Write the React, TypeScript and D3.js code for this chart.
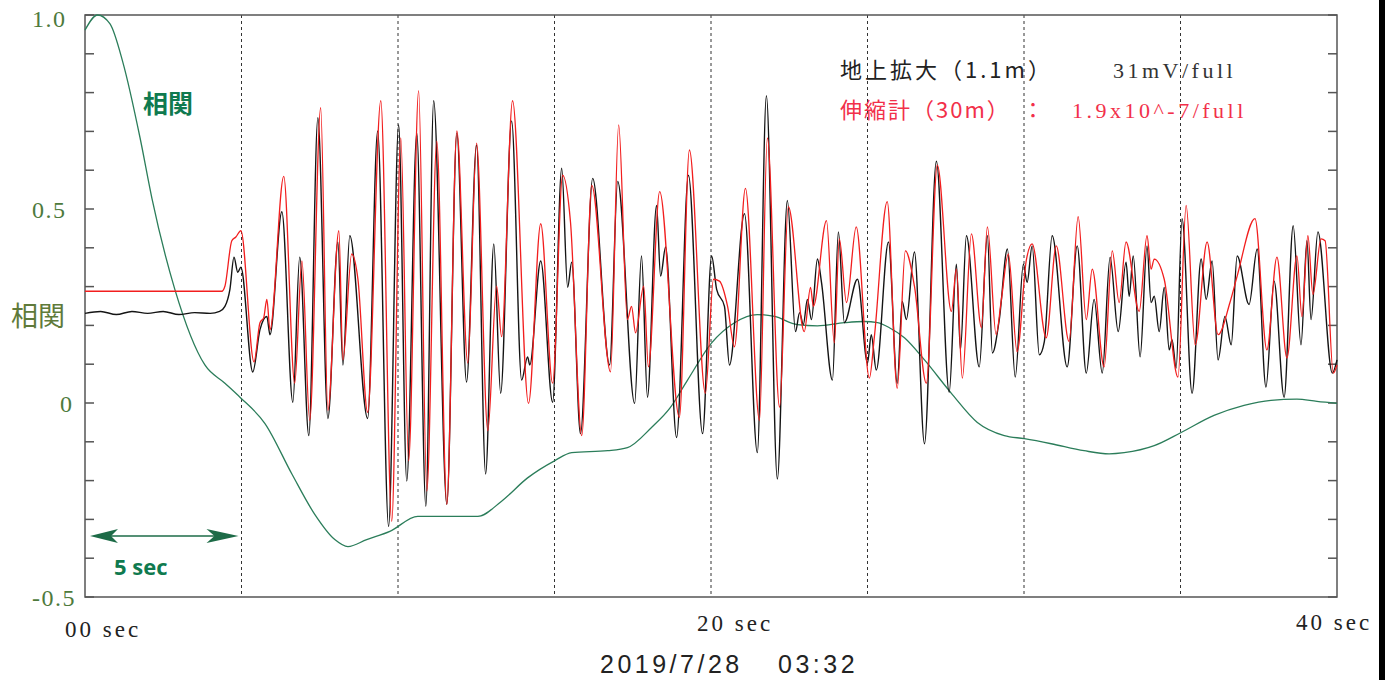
import React from 'react';
import * as d3 from 'd3';

const W = 1393;
const H = 680;

// 地上拡大 (black) — [seconds, value]
const groundAmp: [number, number][] = [
  [0, 0.231], [0.5, 0.236], [1, 0.228], [1.5, 0.236], [2, 0.231], [2.5, 0.236], [3, 0.228], [3.5, 0.233], [4, 0.231], [4.3, 0.236],
  [4.47, 0.249], [4.63, 0.293], [4.76, 0.376], [4.88, 0.337], [4.98, 0.35], [5.36, 0.08], [5.59, 0.189], [5.81, 0.223], [5.91, 0.176],
  [6.29, 0.493], [6.64, 0.002], [6.86, 0.376], [7.15, -0.084], [7.44, 0.735], [7.76, -0.04], [8.08, 0.415], [8.24, 0.098], [8.46, 0.431],
  [9.03, -0.04], [9.35, 0.701], [9.7, -0.318], [10.02, 0.717], [10.28, -0.201], [10.6, 0.696], [10.89, -0.266], [11.14, 0.779],
  [11.56, -0.261], [11.88, 0.696], [12.19, 0.054], [12.51, 0.665], [12.8, -0.183], [13.06, 0.41], [13.28, 0.025], [13.63, 0.727],
  [13.95, 0.059], [14.14, 0.119], [14.21, 0.098], [14.56, 0.366], [14.94, 0.002], [15.23, 0.605], [15.42, 0.298], [15.55, 0.363],
  [15.83, -0.079], [16.22, 0.579], [16.76, 0.098], [17.02, 0.571], [17.56, -0.001], [17.78, 0.379], [17.97, 0.015], [18.26, 0.509],
  [18.39, 0.327], [18.55, 0.402], [18.9, -0.089], [19.28, 0.587], [19.73, -0.079], [20.02, 0.379], [20.18, 0.293], [20.43, 0.249],
  [20.59, 0.098], [21.07, 0.488], [21.48, -0.128], [21.77, 0.792], [22.12, -0.196], [22.44, 0.522], [22.7, 0.184], [22.83, 0.233],
  [22.95, 0.202], [23.08, 0.267], [23.21, 0.215], [23.4, 0.371], [23.53, 0.311], [23.88, 0.059], [24.07, 0.441], [24.26, 0.207],
  [24.68, 0.319], [25.0, 0.103], [25.12, 0.176], [25.28, 0.085], [25.67, 0.415], [25.95, 0.051], [26.11, 0.262], [26.24, 0.215],
  [26.5, 0.389], [26.82, -0.105], [27.2, 0.623], [27.61, 0.028], [27.84, 0.358], [27.97, 0.137], [28.16, 0.431], [28.57, 0.093],
  [28.83, 0.431], [28.99, 0.129], [29.21, 0.215], [29.47, 0.397], [29.72, 0.067], [29.98, 0.358], [30.1, 0.311], [30.26, 0.405],
  [30.49, 0.124], [30.65, 0.158], [30.9, 0.431], [31.38, 0.093], [31.7, 0.405], [31.99, 0.077], [32.24, 0.267], [32.5, 0.077],
  [32.75, 0.376], [33.01, 0.184], [33.26, 0.363], [33.36, 0.275], [33.49, 0.379], [33.71, 0.119], [33.93, 0.405], [34.06, 0.259],
  [34.16, 0.275], [34.32, 0.184], [34.48, 0.298], [34.64, 0.137], [34.73, 0.163], [34.86, 0.09], [35.05, 0.475], [35.37, 0.025],
  [35.66, 0.371], [35.82, 0.267], [36.01, 0.366], [36.2, 0.111], [36.42, 0.223], [36.62, 0.15], [36.81, 0.379], [37.19, 0.254],
  [37.45, 0.397], [37.73, 0.041], [37.99, 0.314], [38.31, 0.015], [38.6, 0.457], [38.85, 0.15], [39.04, 0.418], [39.17, 0.215],
  [39.39, 0.441], [39.85, 0.077], [40, 0.111],
];

// 伸縮計 (red) — [seconds, value]
const strainMeter: [number, number][] = [
  [0, 0.288], [2.07, 0.288], [4.37, 0.288], [4.47, 0.301], [4.69, 0.418], [4.82, 0.428], [4.98, 0.444], [5.4, 0.106], [5.59, 0.207],
  [5.71, 0.22], [5.81, 0.267], [5.91, 0.189], [6.35, 0.584], [6.7, 0.051], [6.93, 0.366], [7.18, -0.045], [7.53, 0.761],
  [7.76, -0.019], [8.11, 0.444], [8.24, 0.111], [8.52, 0.384], [8.72, 0.319], [9.03, -0.024], [9.45, 0.779], [9.8, -0.305],
  [10.09, 0.683], [10.34, -0.149], [10.66, 0.805], [10.92, -0.227], [11.24, 0.675], [11.56, -0.261], [11.88, 0.701], [12.23, 0.103],
  [12.51, 0.67], [12.87, -0.071], [13.15, 0.301], [13.31, 0.171], [13.66, 0.779], [14.17, -0.001], [14.56, 0.462], [14.94, 0.051],
  [15.26, 0.587], [15.51, 0.467], [15.87, -0.084], [16.19, 0.561], [16.79, 0.08], [17.05, 0.717], [17.33, 0.215], [17.46, 0.249],
  [17.59, 0.181], [17.85, 0.301], [18.0, 0.093], [18.36, 0.545], [18.99, -0.037], [19.31, 0.652], [19.82, 0.025], [20.08, 0.319],
  [20.27, 0.314], [20.53, 0.249], [20.75, 0.145], [21.1, 0.553], [21.55, -0.045], [21.8, 0.683], [22.19, -0.011], [22.47, 0.506],
  [22.98, 0.184], [23.18, 0.298], [23.27, 0.249], [23.69, 0.47], [23.94, 0.155], [24.1, 0.423], [24.33, 0.259], [24.64, 0.454],
  [25.06, 0.064], [25.22, 0.171], [25.63, 0.519], [25.95, 0.038], [26.21, 0.392], [26.5, 0.301], [26.88, 0.051], [27.23, 0.613],
  [27.68, 0.236], [27.84, 0.345], [28.03, 0.064], [28.32, 0.436], [28.64, 0.194], [28.83, 0.454], [29.11, 0.176], [29.27, 0.262],
  [29.5, 0.384], [29.78, 0.132], [30.07, 0.366], [30.26, 0.41], [30.71, 0.168], [31.03, 0.405], [31.44, 0.158], [31.73, 0.48],
  [31.99, 0.215], [32.18, 0.345], [32.56, 0.093], [32.82, 0.392], [33.04, 0.259], [33.26, 0.415], [33.68, 0.236], [33.93, 0.431],
  [34.06, 0.345], [34.16, 0.371], [34.48, 0.319], [34.92, 0.067], [35.18, 0.509], [35.47, 0.15], [35.85, 0.415], [36.2, 0.176],
  [36.58, 0.259], [36.81, 0.327], [37.38, 0.475], [37.76, 0.137], [38.08, 0.376], [38.4, 0.116], [38.72, 0.379], [38.88, 0.223],
  [39.07, 0.431], [39.23, 0.28], [39.49, 0.423], [39.62, 0.418], [39.88, 0.077], [40, 0.098],
];

// 相関 (green) — [lag seconds, correlation]
const correlation: [number, number][] = [
  [0, 0.961], [0.4, 1.0], [0.8, 0.977], [1.21, 0.878], [1.76, 0.683], [2.14, 0.527], [2.87, 0.293], [3.83, 0.098], [4.47, 0.051],
  [4.95, 0.015], [5.75, -0.053], [6.61, -0.183], [7.34, -0.287], [7.98, -0.352], [8.4, -0.37], [9.0, -0.352], [9.74, -0.331],
  [10.63, -0.292], [11.65, -0.292], [12.55, -0.292], [13.31, -0.253], [14.14, -0.193], [15.0, -0.149], [15.55, -0.128],
  [16.7, -0.123], [17.33, -0.115], [18.1, -0.063], [18.68, -0.014], [19.25, 0.059], [20.02, 0.155], [20.75, 0.207],
  [21.48, 0.228], [22.03, 0.223], [22.76, 0.202], [23.4, 0.199], [24.26, 0.207], [24.9, 0.21], [25.32, 0.207], [25.7, 0.194],
  [26.18, 0.168], [26.82, 0.111], [27.68, 0.025], [28.51, -0.05], [29.37, -0.084], [30.01, -0.092], [30.87, -0.105],
  [31.92, -0.123], [32.72, -0.131], [33.2, -0.128], [34.16, -0.11], [35.02, -0.076], [36.07, -0.032], [37.03, -0.006],
  [37.89, 0.007], [38.72, 0.01], [39.36, 0.004], [40, -0.001],
];

const yTickValues = [1.0, 0.5, 0, -0.5];
const yTickLabels = ['1.0', '0.5', '0', '-0.5'];
const timeTickValues = [0, 20, 40];
const timeTickLabels = ['00 sec', '20 sec', '40 sec'];
const gridSeconds = [5, 10, 15, 20, 25, 30, 35];
const minorTicks = [-0.5, -0.4, -0.3, -0.2, -0.1, 0, 0.1, 0.2, 0.3, 0.4, 0.5, 0.6, 0.7, 0.8, 0.9, 1.0];

export default function App() {
  const x = d3.scaleLinear().domain([0, 40]).range([85, 1337]);
  const y = d3.scaleLinear().domain([-0.5, 1]).range([597, 15]);
  const line = d3
    .line<[number, number]>()
    .x((d) => x(d[0]))
    .y((d) => y(d[1]))
    .curve(d3.curveMonotoneX);

  const x0 = x(0);
  const x1 = x(40);
  const yTop = y(1);
  const yBot = y(-0.5);

  const serif = '"Liberation Serif", "DejaVu Serif", serif';
  const cjk = '"Noto Sans CJK JP", "Noto Sans", sans-serif';
  const sans = '"Liberation Sans", Arial, sans-serif';
  const green = '#0f7a4f';

  const timeLabelShift = [-20, -14, -41];
  const timeLabelBase = [637, 631, 630];

  const arrowY = 536;
  const ax0 = x(0) + 5;
  const ax1 = x(5) - 3;

  return (
    <svg width={W} height={H} style={{ position: 'absolute', left: 0, top: 0, background: '#fff' }}>
      <rect x={0} y={0} width={W} height={H} fill="#fff" />
      {gridSeconds.map((s) => (
        <line key={s} x1={x(s)} x2={x(s)} y1={yTop} y2={yBot} stroke="#333" strokeWidth={1} strokeDasharray="3,3" />
      ))}
      <rect x={x0} y={yTop} width={x1 - x0} height={yBot - yTop} fill="none" stroke="#555" strokeWidth={1.5} />
      {minorTicks.map((v) => (
        <g key={v}>
          <line x1={x0} x2={x0 + 9} y1={y(v)} y2={y(v)} stroke="#555" strokeWidth={1.5} />
          <line x1={x1 - 9} x2={x1} y1={y(v)} y2={y(v)} stroke="#555" strokeWidth={1.5} />
        </g>
      ))}
      {yTickValues.map((v, i) => (
        <text
          key={v}
          x={yTickLabels[i] === '0' ? 60 : 32}
          y={Math.max(y(v) + 9, 27)}
          fontFamily={serif}
          fontSize={24}
          letterSpacing={1.5}
          fill="#4e7a3c"
        >
          {yTickLabels[i]}
        </text>
      ))}
      {timeTickValues.map((t, i) => (
        <text
          key={t}
          x={x(t) + timeLabelShift[i]}
          y={timeLabelBase[i]}
          fontFamily={serif}
          fontSize={23}
          letterSpacing={3}
          fill="#222"
        >
          {timeTickLabels[i]}
        </text>
      ))}
      <path d={line(correlation) || ''} fill="none" stroke="#2b7d5a" strokeWidth={1.3} />
      <path d={line(groundAmp) || ''} fill="none" stroke="#141414" strokeWidth={1.4} />
      <path d={line(strainMeter) || ''} fill="none" stroke="#f21e1e" strokeWidth={1.3} />

      <text x={143} y={113} fontFamily={cjk} fontWeight={700} fontSize={25} fill={green}>相関</text>
      <text x={11} y={326} fontFamily={cjk} fontSize={27} fill="#5f7a3a">相関</text>
      <line x1={ax0 + 10} x2={ax1 - 10} y1={arrowY} y2={arrowY} stroke="#1d6b47" strokeWidth={1.5} />
      <path
        d={`M${ax0},${arrowY} L${ax0 + 28},${arrowY - 7} L${ax0 + 21},${arrowY} L${ax0 + 28},${arrowY + 7} Z`}
        fill="#1d6b47"
      />
      <path
        d={`M${ax1},${arrowY} L${ax1 - 32},${arrowY - 7} L${ax1 - 24},${arrowY} L${ax1 - 32},${arrowY + 7} Z`}
        fill="#1d6b47"
      />
      <text x={114} y={575} fontFamily='"Open Sans", "Noto Sans", sans-serif' fontWeight={700} fontSize={22} fill={green}>5 sec</text>

      <text x={840} y={78} fontFamily={cjk} fontSize={22} letterSpacing={3} fill="#222">地上拡大（1.1m）</text>
      <text x={1113} y={78} fontFamily={serif} fontSize={22} letterSpacing={3.5} fill="#333">31mV/full</text>
      <text x={840} y={118} fontFamily={cjk} fontSize={22} letterSpacing={2} fill="#f2304a">伸縮計（30m）</text>
      <text x={1022} y={118} fontFamily={cjk} fontSize={22} fill="#f2304a">：</text>
      <text x={1072} y={118} fontFamily={serif} fontSize={22} letterSpacing={3.5} fill="#f2304a">1.9x10^-7/full</text>

      <text x={600} y={673} fontFamily={sans} fontSize={25} letterSpacing={3.5} fill="#222">2019/7/28</text>
      <text x={778} y={673} fontFamily={sans} fontSize={25} letterSpacing={3.5} fill="#222">03:32</text>

      <rect x={1379} y={0} width={6} height={H} fill="#000" />
    </svg>
  );
}
